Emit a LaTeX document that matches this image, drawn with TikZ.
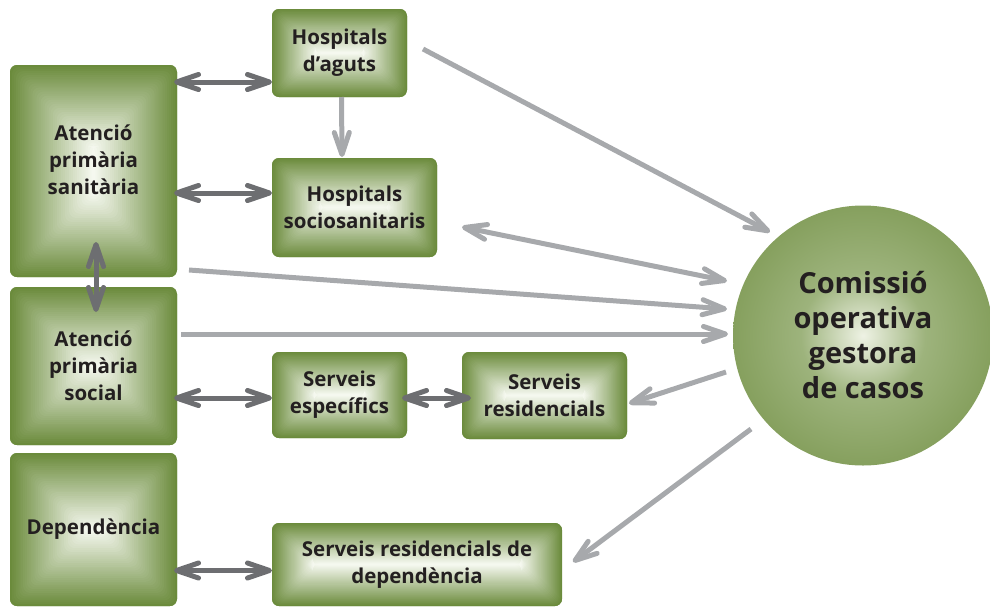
\documentclass[tikz,border=0pt]{standalone}
\usepackage{fontspec}
\setmainfont{Open Sans}
\usetikzlibrary{arrows.meta}

\definecolor{boxgreen}{HTML}{6B8B3C}
\definecolor{boxlight}{HTML}{F5F8EF}
\definecolor{cgcenter}{HTML}{EEF2E4}
\definecolor{cgmid}{HTML}{9DB37C}
\definecolor{cgedge}{HTML}{6A893A}
\definecolor{arrowdark}{HTML}{6D6E71}
\definecolor{arrowlight}{HTML}{A7A9AC}
\definecolor{txtdark}{HTML}{231F20}

\pgfdeclareradialshading{cogcshade}{\pgfpoint{0bp}{0bp}}{color(0bp)=(cgcenter); color(12bp)=(cgmid); color(32bp)=(cgedge!70!cgmid); color(50bp)=(cgedge)}

% pillow look: nested rectangles from the green rim to a pale centre
\tikzset{
  pillow/.style={path picture={
      \pgfpointdiff{\pgfpointanchor{path picture bounding box}{south west}}{\pgfpointanchor{path picture bounding box}{north east}}%
      \pgfgetlastxy{\boxw}{\boxh}%
      \pgfmathsetmacro{\halfmin}{min(\boxw,\boxh)/2}%
      \foreach \k in {0,...,40}{%
        \pgfmathsetmacro{\ins}{\k*\halfmin/41}%
        \pgfmathtruncatemacro{\mix}{100-2.5*\k}%
        \fill[boxgreen!\mix!boxlight] ([shift={(\ins pt,\ins pt)}]path picture bounding box.south west) rectangle ([shift={(-\ins pt,-\ins pt)}]path picture bounding box.north east);
      }}},
}

\begin{document}
\begin{tikzpicture}[x=1pt, y=-1pt,
    box/.style={rectangle, rounded corners=7pt, fill=boxgreen, pillow, outer sep=0pt, inner sep=0pt,
      align=center, text=txtdark, font=\fontsize{20.5}{27}\selectfont\bfseries},
    cogcnode/.style={circle, minimum size=260pt, shading=cogcshade, outer sep=0pt, inner sep=0pt,
      align=center, text=txtdark, font=\fontsize{29}{35}\selectfont\bfseries},
    dk/.style={draw=arrowdark, line width=5pt, >={Straight Barb[length=22pt,width=15pt,round]}, <->},
    lt/.style={draw=arrowlight, line width=5pt, >={Straight Barb[length=22pt,width=15pt,round]}, ->}]
    \useasboundingbox (0,0) rectangle (990,608);

    \node[box, minimum width=167pt, minimum height=212pt] at (93.5, 171) (aps) {Atenció\\primària\\sanitària\\[-4pt]};
    \node[box, minimum width=167pt, minimum height=158pt] at (93.5, 366) (apsoc) {Atenció\\primària\\social};
    \node[box, minimum width=167pt, minimum height=153pt] at (93.5, 529.5) (dep) {Dependència};
    \node[box, minimum width=135pt, minimum height=88pt] at (339.5, 53) (haguts) {Hospitals\\d’aguts};
    \node[box, minimum width=165pt, minimum height=99pt] at (354.5, 207.5) (hsoc) {Hospitals\\sociosanitaris};
    \node[box, minimum width=135pt, minimum height=86pt] at (339.5, 395) (sesp) {Serveis\\específics};
    \node[box, minimum width=165pt, minimum height=87pt] at (544.5, 395.5) (sres) {Serveis\\residencials};
    \node[box, minimum width=290pt, minimum height=83pt] at (417, 564.5) (srdep) {Serveis residencials de\\dependència};
    \node[cogcnode] at (863, 335.5) (cogc) {Comissió\\operativa\\gestora\\de casos};

    % two-way links
    \path ([shift={(-3pt,89pt)}]aps.east) edge[dk] ([yshift=-29pt]haguts.west);
    \path ([shift={(-3pt,-22pt)}]aps.east) edge[dk] ([yshift=14.5pt]hsoc.west);
    \path ([shift={(2.5pt,35pt)}]aps.south) edge[dk] ([shift={(2.5pt,-25pt)}]apsoc.north);
    \path ([shift={(-3pt,-32pt)}]apsoc.east) edge[dk] ([yshift=-3pt]sesp.west);
    \path ([shift={(-5pt,-3pt)}]sesp.east) edge[dk] ([shift={(9pt,-2.5pt)}]sres.west);
    \path ([shift={(-3pt,-41pt)}]dep.east) edge[dk] ([yshift=-6pt]srdep.west);

    % links with the commission
    \path ([xshift=2pt]haguts.south) edge[lt] ([shift={(-12.5pt,1pt)}]hsoc.north);
    \path ([shift={(16pt,4pt)}]haguts.east) edge[lt] ([shift={(37pt,103.5pt)}]cogc.west);
    \path ([shift={(25pt,-19.5pt)}]hsoc.east) edge[lt, <->] ([shift={(-6pt,54.5pt)}]cogc.west);
    \path ([shift={(12pt,7pt)}]aps.south east) edge[lt] ([shift={(-6pt,26.5pt)}]cogc.west);
    \path ([shift={(4pt,-47pt)}]apsoc.north east) edge[lt] ([shift={(-5pt,1.5pt)}]cogc.west);
    \path ([shift={(-7pt,-36.5pt)}]cogc.west) edge[lt] ([shift={(2pt,-8pt)}]sres.east);
    \path ([shift={(18pt,-93.5pt)}]cogc.west) edge[lt] ([shift={(11pt,2.5pt)}]srdep.east);
\end{tikzpicture}
\end{document}
